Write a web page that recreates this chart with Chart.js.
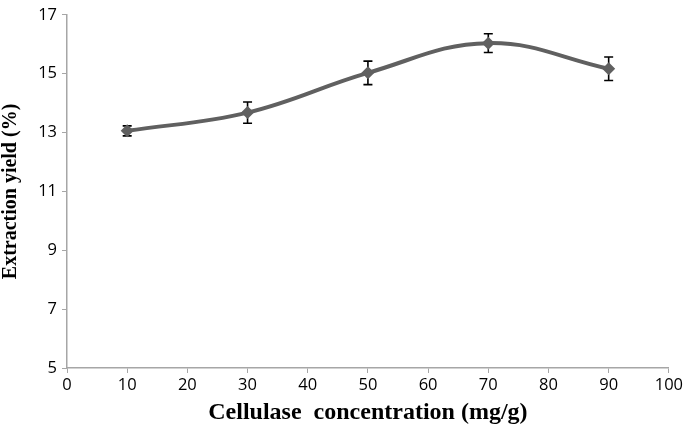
<!DOCTYPE html>
<html>
<head>
<meta charset="utf-8">
<script src="https://cdn.jsdelivr.net/npm/chart.js@4/dist/chart.umd.min.js"></script>
<style>
  html, body { margin: 0; padding: 0; background: #fff; }
  #wrap { width: 685px; height: 434px; }
</style>
</head>
<body>
<div id="wrap"><canvas id="chart"></canvas></div>
<script>
// Cellulase concentration (mg/g) vs extraction yield (%)
const concentrations = [10, 30, 50, 70, 90];
const yields = [13.06, 13.68, 15.03, 16.04, 15.17];
const yieldErrors = [0.17, 0.36, 0.4, 0.32, 0.4];

const LINE_GREY = '#606060';
const AXIS_GREY = '#a6a6a6';

// Draw vertical error bars with caps, under the markers
const errorBars = {
  id: 'errorBars',
  beforeDatasetsDraw(chart) {
    const { ctx, scales: { x, y } } = chart;
    ctx.save();
    ctx.strokeStyle = '#000';
    ctx.lineWidth = 1.6;
    concentrations.forEach((c, i) => {
      const px = x.getPixelForValue(c);
      const top = y.getPixelForValue(yields[i] + yieldErrors[i]);
      const bot = y.getPixelForValue(yields[i] - yieldErrors[i]);
      ctx.beginPath();
      ctx.moveTo(px, top); ctx.lineTo(px, bot);
      ctx.moveTo(px - 4.5, top); ctx.lineTo(px + 4.5, top);
      ctx.moveTo(px - 4.5, bot); ctx.lineTo(px + 4.5, bot);
      ctx.stroke();
    });
    ctx.restore();
  }
};

const tickFont = { family: 'Open Sans, sans-serif', size: 16.5 };
const xTitleFont = { family: 'Liberation Serif, serif', size: 24, weight: 'bold', lineHeight: 1 };
const yTitleFont = { family: 'Liberation Serif, serif', size: 20, weight: 'bold', lineHeight: 1 };

new Chart(document.getElementById('chart'), {
  type: 'line',
  data: {
    datasets: [{
      data: concentrations.map((c, i) => ({ x: c, y: yields[i] })),
      borderColor: LINE_GREY,
      backgroundColor: LINE_GREY,
      borderWidth: 4,
      tension: 0.4,
      pointStyle: 'rectRot',
      pointRadius: 6.5,
      pointBorderWidth: 0,
      fill: false
    }]
  },
  options: {
    responsive: true,
    maintainAspectRatio: false,
    animation: false,
    layout: { padding: { top: 10, right: 16, left: 0, bottom: 0 } },
    plugins: { legend: { display: false }, tooltip: { enabled: false } },
    scales: {
      x: {
        type: 'linear',
        min: 0, max: 100,
        ticks: { stepSize: 10, color: '#000', font: tickFont, padding: 2 },
        grid: { drawOnChartArea: false, tickLength: 5, color: AXIS_GREY },
        border: { color: AXIS_GREY, width: 1.5 },
        title: { display: true, text: 'Cellulase  concentration (mg/g)', color: '#000', font: xTitleFont, padding: { top: 0, bottom: 9 } },
        afterFit(scale) { scale.height = 66; }
      },
      y: {
        min: 5, max: 17,
        ticks: { stepSize: 2, color: '#000', font: tickFont, padding: 5 },
        grid: { drawOnChartArea: false, tickLength: 5, color: AXIS_GREY },
        border: { color: AXIS_GREY, width: 1.5 },
        title: { display: true, text: 'Extraction yield (%)', color: '#000', font: yTitleFont, padding: { top: 1, bottom: 0 } },
        afterFit(scale) { scale.width = 67; }
      }
    }
  },
  plugins: [errorBars]
});
</script>
</body>
</html>
